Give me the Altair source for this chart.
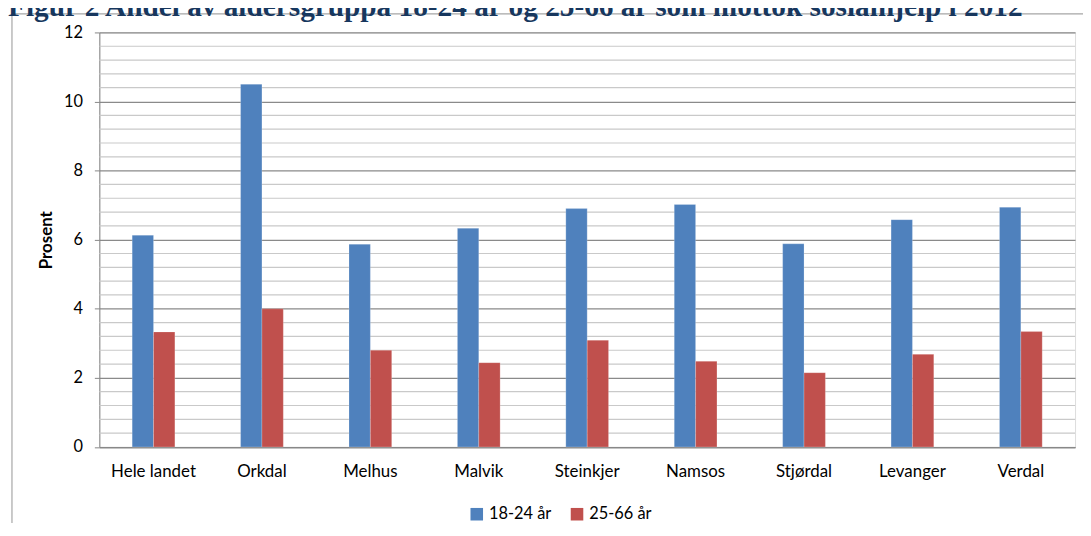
import altair as alt
import pandas as pd

# ---- data ----
categories = ["Hele landet", "Orkdal", "Melhus", "Malvik", "Steinkjer",
              "Namsos", "Stjørdal", "Levanger", "Verdal"]
series_names = ["18-24 år", "25-66 år"]
values_18_24 = [6.13, 10.50, 5.87, 6.33, 6.90, 7.02, 5.88, 6.58, 6.94]
values_25_66 = [3.33, 4.00, 2.80, 2.44, 3.09, 2.48, 2.15, 2.68, 3.34]
y_major_values = [0, 2, 4, 6, 8, 10, 12]
y_minor_values = [0.4, 0.8, 1.2, 1.6, 2.4, 2.8, 3.2, 3.6, 4.4, 4.8, 5.2, 5.6,
                  6.4, 6.8, 7.2, 7.6, 8.4, 8.8, 9.2, 9.6, 10.4, 10.8, 11.2, 11.6]
title_text = "Figur 2 Andel av aldersgruppa 18-24 år og 25-66 år som mottok sosialhjelp i 2012"
y_title = "Prosent"

colors = ["#4F81BD", "#C0504D"]

rows = []
for c, a, b in zip(categories, values_18_24, values_25_66):
    rows.append({"Kommune": c, "Serie": series_names[0], "Prosent": a})
    rows.append({"Kommune": c, "Serie": series_names[1], "Prosent": b})
df = pd.DataFrame(rows)
minor_df = pd.DataFrame({"Prosent": y_minor_values})

W, H = 983, 417.6
PAD_L, PAD_T, PAD_R, PAD_B = 92, 22.7, 8, 75

y_scale = alt.Scale(domain=[0, 12], nice=False, zero=True)
y_axis = alt.Axis(values=y_major_values, format="d",
                  grid=True, gridColor="#8a8a8a", gridWidth=1.2,
                  tickColor="#868686", tickSize=5,
                  domainColor="#868686",
                  labelFontSize=16.5, labelPadding=12, labelColor="#000000",
                  labelFont="Lato",
                  title=y_title, titleFont="Lato", titleFontSize=17,
                  titleFontWeight="bold", titleColor="#000000",
                  titleAngle=-90, titleX=-53, titleY=H / 2,
                  titleAlign="center", titleBaseline="middle")

minor_grid = alt.Chart(minor_df).mark_rule(color="#c9c9c9", strokeWidth=1.2).encode(
    y=alt.Y("Prosent:Q", scale=y_scale, axis=y_axis)
)

bars = alt.Chart(df).mark_bar(stroke="white", strokeOpacity=0.35, strokeWidth=0.6).encode(
    x=alt.X("Kommune:N", sort=categories,
            scale=alt.Scale(paddingInner=0.606, paddingOuter=0.303),
            axis=alt.Axis(title=None, labelAngle=0, ticks=False, grid=False,
                          domainColor="#868686", domainWidth=1,
                          labelFontSize=17, labelPadding=17, labelColor="#000000",
                          labelFont="Lato")),
    xOffset=alt.XOffset("Serie:N", sort=series_names),
    y=alt.Y("Prosent:Q", scale=y_scale, axis=y_axis),
    color=alt.Color("Serie:N", scale=alt.Scale(domain=series_names, range=colors),
                    legend=alt.Legend(title=None, orient="none", direction="horizontal",
                                      legendX=372, legendY=477,
                                      symbolType="square", symbolSize=160,
                                      symbolStrokeWidth=0,
                                      labelFontSize=16.5, labelFont="Lato",
                                      labelColor="#000000",
                                      labelOffset=4, columnPadding=17)),
)

one = pd.DataFrame({"k": [0]})

frame = alt.Chart(one).mark_rect(fillOpacity=0, stroke="#a6a6a6", strokeWidth=1.2).encode(
    x=alt.value(-88), x2=alt.value(1200), y=alt.value(-18.7), y2=alt.value(800)
)

title = alt.Chart(one).mark_text(
    text=title_text, align="left", baseline="alphabetic",
    font="Liberation Serif", fontWeight="bold", fontSize=29.5, color="#17375E"
).encode(x=alt.value(-92), y=alt.value(-16.5))

chart = alt.layer(frame, minor_grid, bars, title).properties(
    width=W, height=H,
    autosize=alt.AutoSizeParams(type="none"),
    padding={"left": PAD_L, "top": PAD_T, "right": PAD_R, "bottom": PAD_B},
).configure_view(stroke=None).configure(font="Lato")

chart.save("out.html", embed_options={"renderer": "svg", "actions": False})
